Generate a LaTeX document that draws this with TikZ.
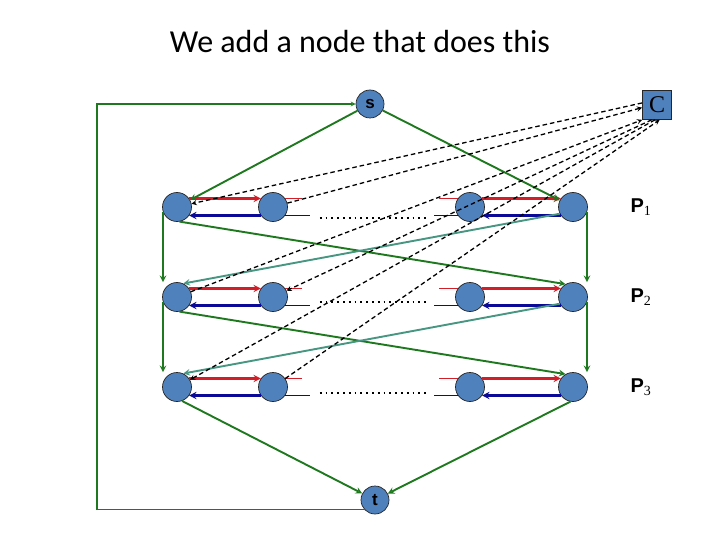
\documentclass[tikz,border=0pt]{standalone}
\usepackage{fontspec}
\setmainfont{Liberation Sans}
\newfontfamily\titlefont{Carlito}
\newfontfamily\seriffont{Liberation Serif}
\usepackage{xcolor}
\usetikzlibrary{positioning,arrows}

\definecolor{nodeblue}{RGB}{79,129,189}
\definecolor{flowgreen}{RGB}{30,120,30}
\definecolor{flowteal}{RGB}{70,150,130}
\definecolor{fwdred}{RGB}{210,30,40}
\definecolor{backblue}{RGB}{10,10,150}

\begin{document}
\begin{tikzpicture}[
		x=1pt,y=-1pt,
		->,>=stealth,
		vertex/.style={
			draw=black!85,
			line width=0.7pt,
			fill=nodeblue,
			circle,
			minimum size=29pt,
			inner sep=0pt,
			font=\fontsize{17}{19}\selectfont\bfseries
		},
		control/.style={
			draw=black!85,
			line width=0.7pt,
			fill=nodeblue,
			rectangle,
			minimum size=29pt,
			inner sep=0pt,
			font=\seriffont\fontsize{24}{26}\selectfont
		},
		flow/.style={draw=flowgreen, line width=1.9pt},
		cross/.style={draw=flowteal, line width=1.9pt},
		fwd/.style={draw=fwdred, line width=2.2pt},
		back/.style={draw=backblue, line width=2.2pt},
		ctrl/.style={draw=black, line width=1.3pt, dash pattern=on 4.5pt off 3pt},
		gap/.style={-, draw=black, line width=1.8pt, dash pattern=on 1.8pt off 4pt},
		plabel/.style={font=\fontsize{20}{22}\selectfont\bfseries}
		]
		\useasboundingbox (0,0) rectangle (720,540);
		\node[font=\titlefont\fontsize{32}{36}\selectfont] (title) at (360,42) {We add a node that does this};
		
		% source, sink and the extra node
		\node[vertex, minimum size=28pt] (s) at (370,104) {s};
		\node[vertex, minimum size=28pt] (t) at (375,500) {t};
		\node[control] (C) at (657,105) {C};
		
		% one row of four nodes per path
		\foreach \r/\y in {1/207,2/297,3/387} {
			\node[vertex] (n\r1) at (177,\y) {};
			\node[vertex] (n\r2) at (273,\y) {};
			\node[vertex] (n\r3) at (470,\y) {};
			\node[vertex] (n\r4) at (573,\y) {};
			\node[plabel] (p\r) at (641,\y) {P\textsubscript{\seriffont\mdseries\r}};
			\draw[fwd] (n\r1.35) -- (n\r2.145);
			\draw[back] (n\r2.-145) -- (n\r1.-35);
			\draw[fwd] (n\r3.35) -- (n\r4.145);
			\draw[back] (n\r4.-145) -- (n\r3.-35);
			\draw[fwd,-,line width=1.3pt] (n\r2.35) -- ++(17,0);
			\draw[back,-,line width=1.3pt] (n\r2.-35) -- ++(25,0);
			\draw[fwd,-,line width=1.3pt] (n\r3.145) -- ++(-19,0);
			\draw[back,-,line width=1.3pt] (n\r3.-145) -- ++(-24,0);
		}
		\draw[gap] ([shift={(32,11)}]n12.east) -- ([shift={(-26,11)}]n13.west);
		\draw[gap] ([shift={(32,5)}]n22.east) -- ([shift={(-26,5)}]n23.west);
		\draw[gap] ([shift={(32,6)}]n32.east) -- ([shift={(-26,6)}]n33.west);
		
		% green flow edges
		\draw[flow] (s) -- (n11);
		\draw[flow] (s) -- (n14);
		\draw[flow] (n11.200) -- (n11.200 |- n21.north);
		\draw[flow] (n21.200) -- (n21.200 |- n31.north);
		\draw[flow] (n14.-20) -- (n14.-20 |- n24.north);
		\draw[flow] (n24.-20) -- (n24.-20 |- n34.north);
		\draw[flow] (n11.-80) -- (n24.120);
		\draw[flow] (n21.-80) -- (n34.120);
		\draw[cross] (n14.-153) -- (n21.65);
		\draw[cross] (n24.-153) -- (n31.65);
		\draw[flow] (n31.-70) -- (t);
		\draw[flow] (n34.-100) -- (t);
		\coordinate (back) at (97,104);
		\draw[flow, line width=1.2pt] (t.220) -| (back) |- (s.west);
		
		% dashed links with C
		\draw[ctrl] (C.172) -- (n11);
		\draw[ctrl] (n12) -- (C.190);
		\draw[ctrl] (n21) -- (C.south west);
		\draw[ctrl] (C.250) -- (n22);
		\draw[ctrl] (C.262) -- (n31);
		\draw[ctrl] (n32) -- (C.280);
	\end{tikzpicture}
\end{document}
